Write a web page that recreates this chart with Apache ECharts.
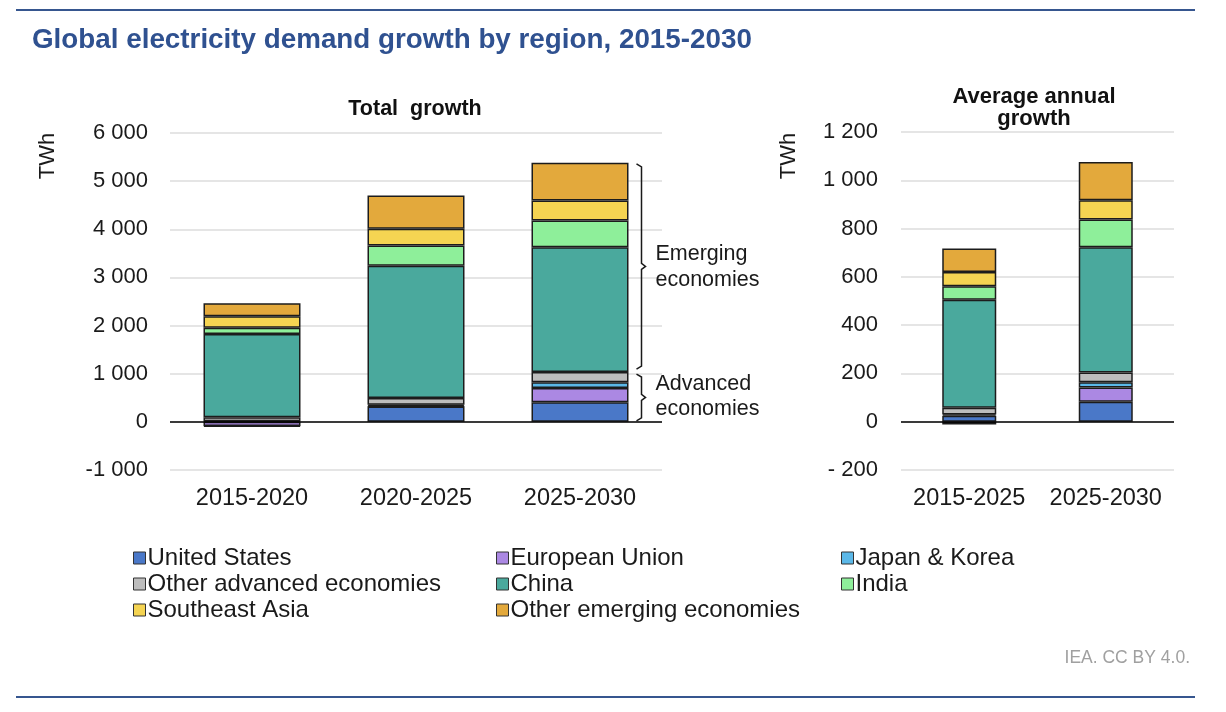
<!DOCTYPE html>
<html>
<head>
<meta charset="utf-8">
<script src="https://cdn.jsdelivr.net/npm/echarts@6/dist/echarts.min.js"></script>
<style>
  html, body { margin: 0; padding: 0; background: #fff; }
  #main { width: 1226px; height: 712px; }
</style>
</head>
<body>
<div id="main"></div>
<script>
// periods on each panel
const totalPeriods = ['2015-2020', '2020-2025', '2025-2030'];
const annualPeriods = ['2015-2025', '2025-2030'];

const regions = ['United States', 'European Union', 'Japan & Korea', 'Other advanced economies',
  'China', 'India', 'Southeast Asia', 'Other emerging economies'];
const regionColors = ['#4a78c8', '#ab88e3', '#5bb8e8', '#bdbdbd', '#4aa99d', '#8eef9a', '#f5d452', '#e3a93c'];

// Total growth, TWh
const totalUS = [15, 320, 405];
const totalEU = [-85, 10, 300];
const totalJK = [-15, 25, 120];
const totalOtherAdv = [80, 140, 210];
const totalChina = [1730, 2745, 2590];
const totalIndia = [130, 425, 560];
const totalSEA = [240, 345, 415];
const totalOtherEm = [270, 690, 780];

// Average annual growth, TWh
const annualUS = [25, 83];
const annualEU = [-12, 59];
const annualJK = [5, 21];
const annualOtherAdv = [28, 41];
const annualChina = [447, 519];
const annualIndia = [56, 115];
const annualSEA = [59, 79];
const annualOtherEm = [97, 159];

const totalTicks = [-1000, 6000, 1000];   // min, max, interval
const annualTicks = [-200, 1200, 200];

const totalData = [totalUS, totalEU, totalJK, totalOtherAdv, totalChina, totalIndia, totalSEA, totalOtherEm];
const annualData = [annualUS, annualEU, annualJK, annualOtherAdv, annualChina, annualIndia, annualSEA, annualOtherEm];

const FONT = '"Liberation Sans", Arial, sans-serif';

const chart = echarts.init(document.getElementById('main'), null, { renderer: 'canvas' });

// number with a space as thousands separator
function fmtThousands(v) {
  const s = Math.abs(v).toString().replace(/\B(?=(\d{3})+(?!\d))/g, ' ');
  return v < 0 ? '-' + s : s;
}

function zeroLine() {
  return {
    silent: true,
    symbol: 'none',
    label: { show: false },
    lineStyle: { color: '#000', width: 1.5, type: 'solid' },
    data: [{ yAxis: 0 }]
  };
}

const series = [];
regions.forEach((name, i) => {
  series.push({
    name: name,
    type: 'bar',
    stack: 'total',
    xAxisIndex: 0,
    yAxisIndex: 0,
    barWidth: 97,
    data: totalData[i],
    itemStyle: { color: regionColors[i], borderColor: '#1c1c1c', borderWidth: 1.5 },
    markLine: i === 0 ? zeroLine() : undefined
  });
});
regions.forEach((name, i) => {
  series.push({
    name: name,
    type: 'bar',
    stack: 'annual',
    xAxisIndex: 1,
    yAxisIndex: 1,
    barWidth: 54,
    data: annualData[i],
    itemStyle: { color: regionColors[i], borderColor: '#1c1c1c', borderWidth: 1.5 },
    markLine: i === 0 ? zeroLine() : undefined
  });
});

const tickStyle = { fontFamily: FONT, fontSize: 22, color: '#1a1a1a' };
const catStyle = { fontFamily: FONT, fontSize: 23.5, color: '#1a1a1a', margin: 17, interval: 0, hideOverlap: false };

function legendCol(left, names) {
  return {
    left: left,
    top: 541,
    orient: 'vertical',
    data: names,
    icon: 'rect',
    itemWidth: 12,
    itemHeight: 12,
    itemGap: 2,
    selectedMode: false,
    itemStyle: { borderColor: '#333', borderWidth: 1 },
    textStyle: { fontFamily: FONT, fontSize: 24, color: '#1a1a1a', padding: [0, 0, 0, -3] }
  };
}

const option = {
  animation: false,
  backgroundColor: '#fff',
  textStyle: { fontFamily: FONT },
  title: [
    {
      text: 'Global electricity demand growth by region, 2015-2030',
      left: 27, top: 21,
      textStyle: { fontFamily: FONT, fontSize: 27.8, fontWeight: 'bold', color: '#2f5190' }
    },
    {
      text: 'Total  growth',
      left: 410, top: 93, textAlign: 'center',
      textStyle: { fontFamily: FONT, fontSize: 21.5, fontWeight: 'bold', color: '#111' }
    },
    {
      text: 'Average annual\ngrowth',
      left: 1029, top: 81, textAlign: 'center',
      textStyle: { fontFamily: FONT, fontSize: 22, fontWeight: 'bold', color: '#111', lineHeight: 22 }
    },
    {
      text: 'IEA. CC BY 4.0.',
      right: 31, top: 644,
      textStyle: { fontFamily: FONT, fontSize: 17.5, fontWeight: 'normal', color: '#a0a0a0' }
    }
  ],
  legend: [
    legendCol(128, [regions[0], regions[3], regions[6]]),
    legendCol(491, [regions[1], regions[4], regions[7]]),
    legendCol(836, [regions[2], regions[5]])
  ],
  grid: [
    { left: 170, top: 133, width: 492, height: 337 },
    { left: 901, top: 132, width: 273, height: 338 }
  ],
  xAxis: [
    {
      type: 'category', gridIndex: 0, data: totalPeriods,
      axisLine: { show: false }, axisTick: { show: false },
      axisLabel: catStyle
    },
    {
      type: 'category', gridIndex: 1, data: annualPeriods,
      axisLine: { show: false }, axisTick: { show: false },
      axisLabel: catStyle
    }
  ],
  yAxis: [
    {
      type: 'value', gridIndex: 0,
      min: totalTicks[0], max: totalTicks[1], interval: totalTicks[2],
      axisLine: { show: false }, axisTick: { show: false },
      splitLine: { lineStyle: { color: '#dcdcdc', width: 1.5 } },
      axisLabel: Object.assign({ margin: 22, formatter: v => fmtThousands(v) }, tickStyle)
    },
    {
      type: 'value', gridIndex: 1,
      min: annualTicks[0], max: annualTicks[1], interval: annualTicks[2],
      axisLine: { show: false }, axisTick: { show: false },
      splitLine: { lineStyle: { color: '#dcdcdc', width: 1.5 } },
      axisLabel: Object.assign({
        margin: 23,
        formatter: v => (v < 0 ? '- ' + fmtThousands(-v) : fmtThousands(v))
      }, tickStyle)
    }
  ],
  series: series
};

chart.setOption(option);

// frame lines, axis units and the two brackets next to the 2025-2030 bar
const last = totalPeriods.length - 1;
const advTop = totalUS[last] + totalEU[last] + totalJK[last] + totalOtherAdv[last];
const allTop = advTop + totalChina[last] + totalIndia[last] + totalSEA[last] + totalOtherEm[last];
const px = (v) => chart.convertToPixel({ xAxisIndex: 0, yAxisIndex: 0 }, [last, v]);

const barRight = px(0)[0] + 97 / 2;
const bx = barRight + 13;

function bracket(yTop, yBot) {
  const mid = (yTop + yBot) / 2;
  return {
    type: 'polyline',
    shape: { points: [[bx - 5, yTop], [bx, yTop + 3], [bx, mid - 3], [bx + 4, mid], [bx, mid + 3], [bx, yBot - 3], [bx - 5, yBot]] },
    style: { stroke: '#1a1a1a', lineWidth: 1.5, fill: null }
  };
}

const yAll = px(allTop)[1];
const yAdv = px(advTop)[1];
const yZero = px(0)[1];

chart.setOption({
  graphic: [
    { type: 'line', shape: { x1: 16, y1: 10, x2: 1195, y2: 10 }, style: { stroke: '#36568f', lineWidth: 2 } },
    { type: 'line', shape: { x1: 16, y1: 697, x2: 1195, y2: 697 }, style: { stroke: '#36568f', lineWidth: 2 } },
    {
      type: 'text', x: 48, y: 156, rotation: Math.PI / 2,
      style: { text: 'TWh', font: '22px ' + FONT, fill: '#1a1a1a', textAlign: 'center', textVerticalAlign: 'middle' }
    },
    {
      type: 'text', x: 789, y: 156, rotation: Math.PI / 2,
      style: { text: 'TWh', font: '22px ' + FONT, fill: '#1a1a1a', textAlign: 'center', textVerticalAlign: 'middle' }
    },
    bracket(yAll + 1, yAdv - 3),
    bracket(yAdv + 2, yZero - 1),
    {
      type: 'text', x: bx + 14, y: (yAll + yAdv) / 2,
      style: { text: 'Emerging\neconomies', font: '21.5px ' + FONT, fill: '#1a1a1a', lineHeight: 26, textVerticalAlign: 'middle' }
    },
    {
      type: 'text', x: bx + 14, y: (yAdv + yZero) / 2,
      style: { text: 'Advanced\neconomies', font: '21.5px ' + FONT, fill: '#1a1a1a', lineHeight: 25, textVerticalAlign: 'middle' }
    }
  ]
});
</script>
</body>
</html>
